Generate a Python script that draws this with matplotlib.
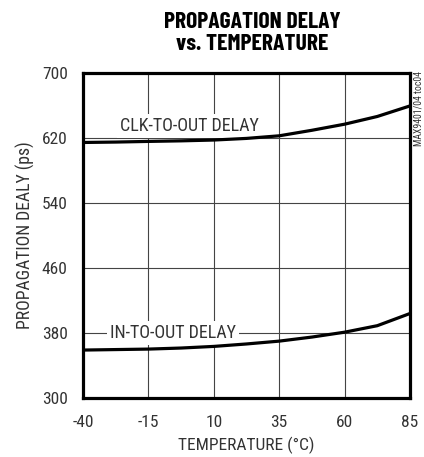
import matplotlib
matplotlib.use("Agg")
import numpy as np
from matplotlib import pyplot as plt

plt.rcParams["font.family"] = ["Roboto Condensed", "Archivo Narrow", "DejaVu Sans"]
plt.rcParams["axes.unicode_minus"] = False

temp = [-40, -27.5, -15, -2.5, 10, 22.5, 35, 47.5, 60, 72.5, 85]
clk_delay = [614.5, 615.0, 615.8, 616.5, 617.5, 619.5, 622.7, 629.5, 637.0, 646.5, 659.5]
in_delay = [359.0, 359.6, 360.2, 361.5, 363.5, 366.5, 370.0, 375.0, 381.0, 389.0, 404.0]

xticks = [-40, -15, 10, 35, 60, 85]
yticks = [300, 380, 460, 540, 620, 700]

fig = plt.figure(figsize=(4.24, 4.57), dpi=100)
ax = fig.add_axes([83 / 424, 1 - 398 / 457, 327 / 424, 325 / 457])

ax.plot(temp, clk_delay, color="black", lw=2.3, zorder=3, solid_capstyle="butt")
ax.plot(temp, in_delay, color="black", lw=2.3, zorder=3, solid_capstyle="butt")

ax.set_xlim(-40, 85)
ax.set_ylim(300, 700)
ax.set_xticks(xticks)
ax.set_yticks(yticks)
ax.grid(True, color="#444444", lw=0.8)
ax.tick_params(length=0, labelsize=12.5, labelcolor="#333333")
ax.tick_params(axis="x", pad=12)
ax.tick_params(axis="y", pad=11)
for s in ax.spines.values():
    s.set_linewidth(2.3)

box = dict(facecolor="white", edgecolor="none", pad=2)
ax.text(-26, 628.8, "CLK-TO-OUT DELAY", fontsize=13, va="baseline", ha="left", bbox=box,
        zorder=2, color="#333333")
ax.text(-29.7, 373.6, "IN-TO-OUT DELAY", fontsize=13, va="baseline", ha="left", bbox=box,
        zorder=2, color="#333333")

ax.set_xlabel("TEMPERATURE (°C)", fontsize=12.5, labelpad=5, color="#333333")
ax.set_ylabel("PROPAGATION DEALY (ps)", fontsize=12.7, labelpad=5, color="#333333")

fig.text(252 / 424, 1 - 33 / 457, "PROPAGATION DELAY\nvs. TEMPERATURE", ha="center", va="center",
         fontsize=17, fontweight="bold", linespacing=1.12,
         family=["Barlow Condensed", "Roboto Condensed", "DejaVu Sans"])
fig.text(418 / 424, 1 - 71 / 457, "MAX9401/04 toc04", rotation=90, ha="center", va="top",
         fontsize=7, color="#333333")

fig.savefig("out.png", dpi=100)
